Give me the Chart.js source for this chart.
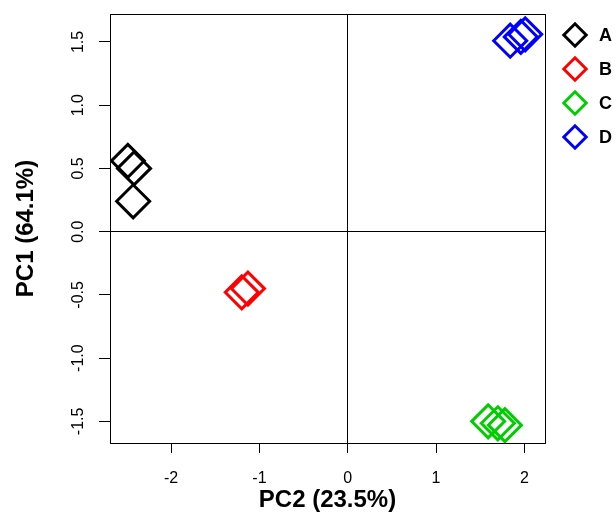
<!DOCTYPE html>
<html>
<head>
<meta charset="utf-8">
<script src="https://cdn.jsdelivr.net/npm/chart.js@4/dist/chart.umd.min.js"></script>
<style>
  html, body { margin: 0; padding: 0; background: #fff; }
  #wrap { width: 616px; height: 513px; position: relative; }
</style>
</head>
<body>
<div id="wrap"><canvas id="pca"></canvas></div>
<script>
// ── Data (x = PC2, y = PC1) ─────────────────────────────────
const groups  = ['A', 'B', 'C', 'D'];
const colors  = ['#000000', '#ff0000', '#00cd00', '#0000ff'];

const groupA = [{ x: -2.49, y: 0.56 }, { x: -2.42, y: 0.50 }, { x: -2.43, y: 0.24 }];
const groupB = [{ x: -1.20, y: -0.48 }, { x: -1.13, y: -0.45 }];
const groupC = [{ x: 1.59, y: -1.50 }, { x: 1.70, y: -1.515 }, { x: 1.78, y: -1.53 }];
const groupD = [{ x: 1.84, y: 1.51 }, { x: 1.96, y: 1.54 }, { x: 2.01, y: 1.56 }];
const seriesData = [groupA, groupB, groupC, groupD];

const xTicks = [-2, -1, 0, 1, 2];
const xTickLabels = ['-2', '-1', '0', '1', '2'];
const yTicks = [-1.5, -1, -0.5, 0, 0.5, 1, 1.5];
const yTickLabels = ['-1.5', '-1.0', '-0.5', '0.0', '0.5', '1.0', '1.5'];

const xTitle = 'PC2 (23.5%)';
const yTitle = 'PC1 (64.1%)';

const FONT = "'Liberation Sans', Arial, Helvetica, sans-serif";

// ── Plugins ─────────────────────────────────────────────────
// box around plotting region
const framePlugin = {
    id: 'frame',
    afterDatasetsDraw(chart) {
        const { ctx, chartArea: a } = chart;
        ctx.save();
        ctx.strokeStyle = '#000';
        ctx.lineWidth = 1;
        ctx.strokeRect(Math.round(a.left) + 0.5, Math.round(a.top) + 0.5,
                       Math.round(a.right - a.left), Math.round(a.bottom - a.top));
        ctx.restore();
    }
};

// R-style legend in the right margin
const sideLegend = {
    id: 'sideLegend',
    afterDraw(chart) {
        const ctx = chart.ctx;
        const x = 575, y0 = 35, step = 34, r = 11.2;
        ctx.save();
        chart.data.datasets.forEach((ds, i) => {
            const y = y0 + i * step;
            ctx.beginPath();
            ctx.moveTo(x - r, y);
            ctx.lineTo(x, y - r);
            ctx.lineTo(x + r, y);
            ctx.lineTo(x, y + r);
            ctx.closePath();
            ctx.lineWidth = 3;
            ctx.strokeStyle = ds.borderColor;
            ctx.stroke();
            ctx.fillStyle = '#000';
            ctx.font = 'bold 18px ' + FONT;
            ctx.textBaseline = 'middle';
            ctx.textAlign = 'left';
            ctx.fillText(ds.label, 599, y + 1);
        });
        ctx.restore();
    }
};

const zeroOnly = c => (c.tick && c.tick.value === 0) ? '#000' : 'rgba(0,0,0,0)';

// ── Chart ───────────────────────────────────────────────────
new Chart(document.getElementById('pca'), {
    type: 'scatter',
    data: {
        datasets: groups.map((g, i) => ({
            label: g,
            data: seriesData[i],
            borderColor: colors[i],
            backgroundColor: 'rgba(0,0,0,0)',
            pointStyle: 'rectRot',
            pointRadius: 16.5,
            pointHoverRadius: 16.5,
            pointBorderWidth: 3,
        })),
    },
    options: {
        responsive: true,
        maintainAspectRatio: false,
        animation: false,
        events: [],
        layout: { autoPadding: false, padding: { top: 14, right: 71, bottom: 0, left: 0 } },
        scales: {
            x: {
                type: 'linear',
                min: -2.692,
                max: 2.234,
                afterBuildTicks: s => { s.ticks = xTicks.map(v => ({ value: v })); },
                afterFit: s => { s.height = 70; s.paddingLeft = 0; s.paddingRight = 0; },
                ticks: {
                    autoSkip: false,
                    color: '#000',
                    padding: 16,
                    font: { family: FONT, size: 16 },
                    callback: (v, i) => xTickLabels[i],
                },
                grid: { color: zeroOnly, tickColor: '#000', tickLength: 10, lineWidth: 1 },
                border: { display: false },
                title: {
                    display: true,
                    text: xTitle,
                    color: '#000',
                    font: { family: FONT, size: 24, weight: 'bold' },
                    padding: { top: 0, bottom: -2 },
                },
            },
            y: {
                type: 'linear',
                min: -1.671,
                max: 1.721,
                afterBuildTicks: s => { s.ticks = yTicks.map(v => ({ value: v })); },
                afterFit: s => { s.width = 110; s.paddingTop = 0; s.paddingBottom = 0; },
                ticks: {
                    autoSkip: false,
                    color: '#000',
                    padding: 7,
                    minRotation: 90,
                    maxRotation: 90,
                    crossAlign: 'center',
                    font: { family: FONT, size: 16 },
                    callback: (v, i) => yTickLabels[i],
                },
                grid: { color: zeroOnly, tickColor: '#000', tickLength: 11, lineWidth: 1 },
                border: { display: false },
                title: {
                    display: true,
                    text: yTitle,
                    color: '#000',
                    font: { family: FONT, size: 24, weight: 'bold' },
                    padding: { top: 12, bottom: 0 },
                },
            },
        },
        plugins: {
            legend: { display: false },
            tooltip: { enabled: false },
        },
    },
    plugins: [framePlugin, sideLegend],
});
</script>
</body>
</html>
